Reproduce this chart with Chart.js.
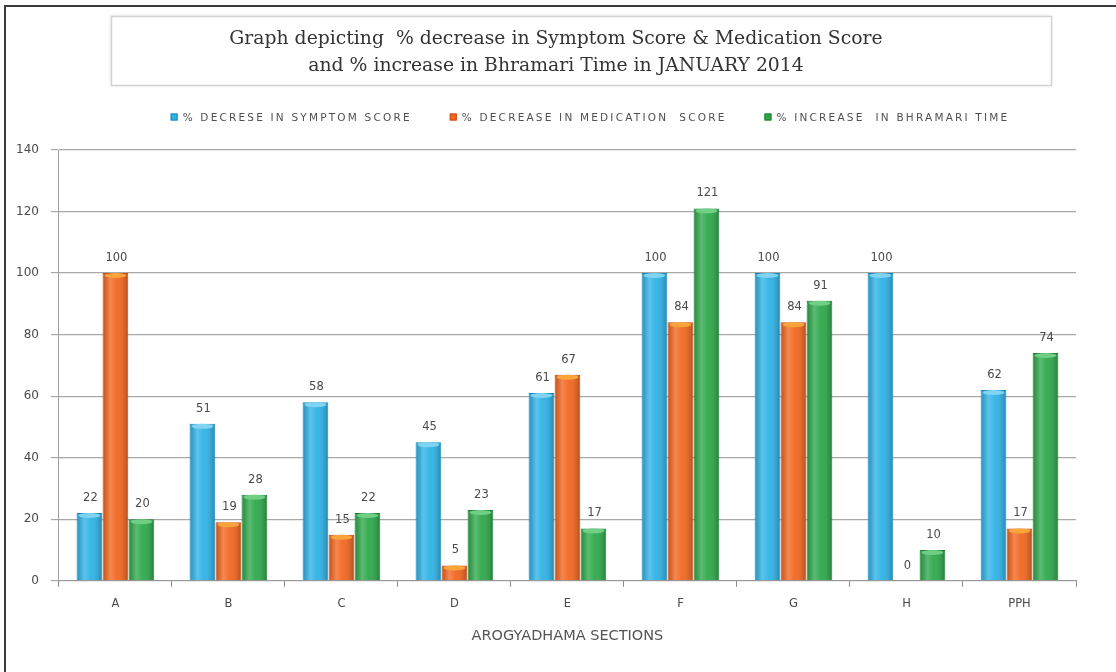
<!DOCTYPE html>
<html>
<head>
<meta charset="utf-8">
<title>Arogyadhama sections - January 2014</title>
<script src="https://cdn.jsdelivr.net/npm/chart.js@4.4.1/dist/chart.umd.min.js"></script>
<style>
  html, body { margin: 0; padding: 0; background: #fff; }
  #wrap { width: 1116px; height: 672px; position: relative; }
</style>
</head>
<body>
<div id="wrap"><canvas id="grafica"></canvas></div>
<script>
// data
const categories = ['A', 'B', 'C', 'D', 'E', 'F', 'G', 'H', 'PPH'];
const symptomDecrease = [22, 51, 58, 45, 61, 100, 100, 100, 62];
const medicationDecrease = [100, 19, 15, 5, 67, 84, 84, 0, 17];
const bhramariIncrease = [20, 28, 22, 23, 17, 121, 91, 10, 74];
const seriesLabels = [
  '% DECRESE IN SYMPTOM SCORE',
  '% DECREASE IN MEDICATION  SCORE',
  '% INCREASE  IN BHRAMARI TIME'
];
const titleLines = [
  'Graph depicting  % decrease in Symptom Score & Medication Score',
  'and % increase in Bhramari Time in JANUARY 2014'
];
const xAxisTitle = 'AROGYADHAMA SECTIONS';
const yMax = 140;
const yStep = 20;

const fills = ['#2eb2e6', '#f2661f', '#2ea84a'];
const edges = ['#1b88bd', '#c9480c', '#1d7f33'];
const caps = ['#7fd3f3', '#f9a53a', '#6fcf85'];

// frame, title box, legend
const decoracion = {
  id: 'decoracion',
  beforeDraw(chart) {
    const ctx = chart.ctx;
    ctx.save();
    ctx.fillStyle = '#fff';
    ctx.fillRect(0, 0, chart.width, chart.height);

    ctx.strokeStyle = '#3c3c3c';
    ctx.lineWidth = 2;
    ctx.beginPath();
    ctx.moveTo(5, chart.height);
    ctx.lineTo(5, 6);
    ctx.lineTo(chart.width, 6);
    ctx.stroke();

    // title box
    ctx.shadowColor = 'rgba(0,0,0,0.12)';
    ctx.shadowBlur = 4;
    ctx.fillStyle = '#fff';
    ctx.fillRect(111, 16, 940, 69);
    ctx.shadowBlur = 0;
    ctx.strokeStyle = '#d2d2d2';
    ctx.lineWidth = 1.5;
    ctx.strokeRect(111.5, 16.5, 940, 69);

    ctx.fillStyle = '#333';
    ctx.font = '18.8px "DejaVu Serif"';
    ctx.textAlign = 'center';
    ctx.textBaseline = 'middle';
    ctx.fillText(titleLines[0], 556, 39);
    ctx.fillText(titleLines[1], 556, 66);

    // legend
    ctx.font = '10.5px "DejaVu Sans"';
    ctx.letterSpacing = '2.2px';
    ctx.textAlign = 'left';
    const gap = 38;
    const box = 7;
    const widths = chart.data.datasets.map(d => box + 5 + ctx.measureText(d.label).width);
    const total = widths.reduce((a, b) => a + b, 0) + gap * (widths.length - 1);
    let x = 590 - total / 2;
    const y = 117;
    chart.data.datasets.forEach((d, i) => {
      ctx.fillStyle = fills[i];
      ctx.fillRect(x, y - box / 2, box, box);
      ctx.strokeStyle = edges[i];
      ctx.lineWidth = 1;
      ctx.strokeRect(x + 0.5, y - box / 2 + 0.5, box - 1, box - 1);
      ctx.fillStyle = '#505050';
      ctx.fillText(d.label, x + box + 5, y + 1);
      x += widths[i] + gap;
    });
    ctx.restore();
  }
};

// cylinder shading and value labels on the bars
const barras = {
  id: 'barras',
  afterDatasetsDraw(chart) {
    const ctx = chart.ctx;
    ctx.save();
    chart.data.datasets.forEach((ds, i) => {
      const meta = chart.getDatasetMeta(i);
      meta.data.forEach((bar, j) => {
        const w = bar.width;
        const left = bar.x - w / 2;
        const h = bar.base - bar.y;
        if (h > 1) {
          const g = ctx.createLinearGradient(left, 0, left + w, 0);
          g.addColorStop(0, 'rgba(0,0,0,0.18)');
          g.addColorStop(0.3, 'rgba(255,255,255,0.22)');
          g.addColorStop(0.55, 'rgba(255,255,255,0.05)');
          g.addColorStop(1, 'rgba(0,0,0,0.25)');
          ctx.fillStyle = g;
          ctx.fillRect(left + 1, bar.y + 1, w - 2, h - 1);
          ctx.fillStyle = caps[i];
          ctx.beginPath();
          ctx.ellipse(bar.x, bar.y + 2.5, w / 2 - 2, 2.5, 0, 0, Math.PI * 2);
          ctx.fill();
        }
        ctx.fillStyle = '#4a4a4a';
        ctx.font = '11.5px "DejaVu Sans"';
        ctx.textAlign = 'center';
        ctx.textBaseline = 'middle';
        ctx.fillText(ds.data[j], bar.x + 1, bar.y - 15);
      });
    });
    ctx.restore();
  }
};

const ctx = document.getElementById('grafica');

new Chart(ctx, {
  type: 'bar',
  data: {
    labels: categories,
    datasets: [
      { label: seriesLabels[0], data: symptomDecrease },
      { label: seriesLabels[1], data: medicationDecrease },
      { label: seriesLabels[2], data: bhramariIncrease }
    ].map((d, i) => Object.assign(d, {
      backgroundColor: fills[i],
      borderColor: edges[i],
      borderWidth: 1,
      borderSkipped: 'bottom',
      categoryPercentage: 0.69,
      barPercentage: 0.99
    }))
  },
  options: {
    responsive: true,
    maintainAspectRatio: false,
    animation: false,
    events: [],
    layout: { padding: { top: 150, left: 4, right: 40, bottom: 27 } },
    plugins: {
      legend: { display: false },
      title: { display: false },
      tooltip: { enabled: false }
    },
    scales: {
      x: {
        grid: {
          display: true,
          drawOnChartArea: false,
          offset: true,
          tickLength: 6,
          color: '#8a8a8a'
        },
        border: { color: '#9a9a9a', width: 1 },
        ticks: {
          color: '#4a4a4a',
          font: { family: 'DejaVu Sans', size: 11.5 },
          padding: 10
        },
        title: {
          display: true,
          text: xAxisTitle,
          color: '#555',
          font: { family: 'DejaVu Sans', size: 14.5 },
          padding: { top: 7, bottom: 0 }
        }
      },
      y: {
        min: 0,
        max: yMax,
        ticks: {
          stepSize: yStep,
          color: '#4a4a4a',
          font: { family: 'DejaVu Sans', size: 12 },
          padding: 12
        },
        grid: {
          color: '#a8a8a8',
          lineWidth: 1.2,
          tickLength: 8
        },
        border: { display: true, color: '#a0a0a0', width: 1 }
      }
    }
  },
  plugins: [decoracion, barras]
});
</script>
</body>
</html>
